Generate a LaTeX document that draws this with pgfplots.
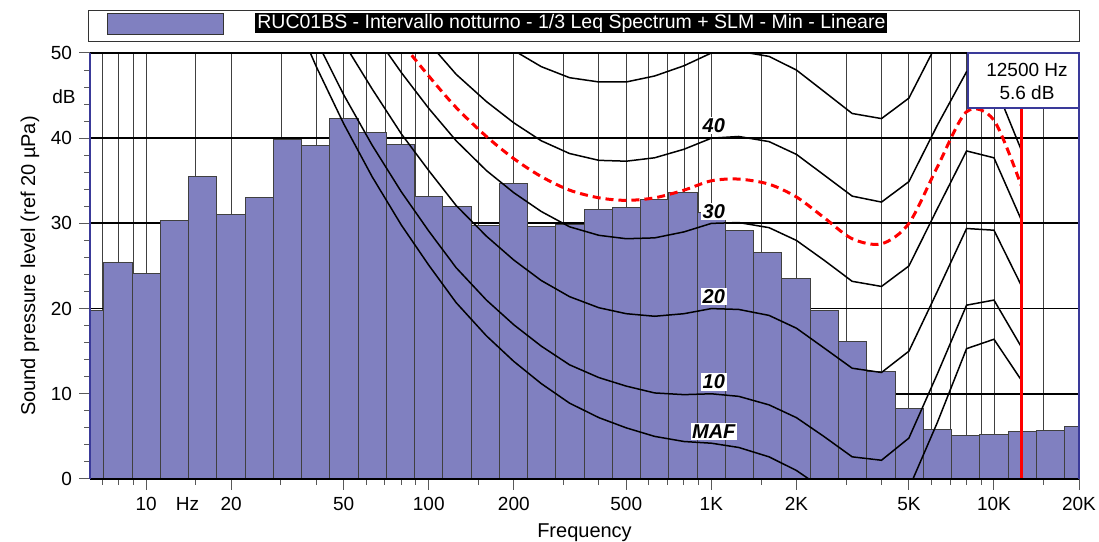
\documentclass[border=0pt]{standalone}
\usepackage{fontspec}
\setmainfont{Liberation Sans}
\usepackage{pgfplots}
\pgfplotsset{compat=1.18}
\usetikzlibrary{calc}
\definecolor{barfill}{HTML}{8080C0}
\definecolor{navy}{HTML}{3A3A99}

\begin{document}
\begin{tikzpicture}
\begin{axis}[
    scale only axis,
    width=494.5pt, height=213pt,
    xmode=log,
    xmin=6.33, xmax=20000,
    ymin=0, ymax=50,
    axis line style={draw=none},
    xtick={10,20,50,100,200,500,1000,2000,5000,10000,20000},
    xticklabels={10,20,50,100,200,500,1K,2K,5K,10K,20K},
    minor xtick={7,8,9,15,30,40,60,70,80,90,150,300,400,600,700,800,900,1500,3000,4000,6000,7000,8000,9000,15000},
    extra x ticks={14},
    extra x tick labels={Hz},
    extra x tick style={grid=none, major tick style={draw=none}},
    ytick={0,10,20,30,40,50},
    minor y tick num=4,
    xtick pos=bottom, ytick pos=left,
    tick align=outside,
    major tick length=5.5pt, minor tick length=3pt,
    every tick/.style={black!65, line width=0.5pt},
    xmajorgrids, xminorgrids, ymajorgrids,
    major x grid style={black!75, line width=0.45pt},
    minor x grid style={black!75, line width=0.45pt},
    major y grid style={black, line width=0.9pt},
    tick label style={font=\fontsize{9.5}{11}\selectfont},
    /pgf/number format/assume math mode=true,
    xlabel={Frequency},
    ylabel={Sound pressure level (ref 20 µPa)},
    label style={font=\fontsize{9.5}{11}\selectfont},
    every axis x label/.style={at={(axis description cs:0.5,0)}, anchor=center, yshift=-27pt},
    every axis y label/.style={at={(axis description cs:-0.0607,0.5)}, anchor=center, rotate=90},
]

% 1/3 octave spectrum, band edges
\addplot[ybar interval, fill=barfill, draw=black!75, line width=0.5pt] coordinates {
    (5.623,19.8) (7.079,25.4) (8.913,24.1) (11.22,30.3) (14.13,35.5) (17.78,31.1)
    (22.39,33.0) (28.18,39.9) (35.48,39.2) (44.67,42.3) (56.23,40.7) (70.79,39.3)
    (89.13,33.1) (112.2,32.0) (141.3,29.7) (177.8,34.7) (223.9,29.6) (281.8,29.9)
    (354.8,31.6) (446.7,31.9) (562.3,32.8) (707.9,33.6) (891.3,31.3) (1122,29.2)
    (1413,26.6) (1778,23.5) (2239,19.8) (2818,16.1) (3548,12.6) (4467,8.3)
    (5623,5.8) (7079,5.1) (8913,5.2) (11220,5.6) (14130,5.7) (17780,6.2) (22390,6.2)
};

% equal loudness contours
\addplot[sharp plot, black, line width=0.75pt] coordinates {
    (20,74.3)(25,65.0)(31.5,56.3)(40,48.4)(50,41.7)(63,35.5)(80,29.8)(100,25.1)
    (125,20.7)(160,16.8)(200,13.8)(250,11.2)(315,8.9)(400,7.2)(500,6.0)(630,5.0)
    (800,4.4)(1000,4.2)(1250,3.7)(1600,2.6)(2000,1.0)(2500,-1.2)(3150,-3.6)
    (4000,-3.9)(5000,-1.1)(6300,6.6)(8000,15.3)(10000,16.4)(12500,11.6)
};
\addplot[sharp plot, black, line width=0.75pt] coordinates {
    (20,76.8)(25,67.7)(31.5,59.2)(40,51.5)(50,45.1)(63,39.2)(80,33.7)(100,29.1)
    (125,24.8)(160,21.0)(200,18.1)(250,15.6)(315,13.4)(400,11.9)(500,10.9)(630,10.1)
    (800,9.9)(1000,10.0)(1250,9.7)(1600,8.7)(2000,7.2)(2500,5.0)(3150,2.6)
    (4000,2.2)(5000,4.8)(6300,12.3)(8000,20.4)(10000,21.0)(12500,15.5)
};
\addplot[sharp plot, black, line width=0.75pt] coordinates {
    (20,81.3)(25,72.5)(31.5,64.3)(40,57.1)(50,51.2)(63,45.8)(80,40.5)(100,36.2)
    (125,32.1)(160,28.5)(200,25.7)(250,23.3)(315,21.4)(400,20.1)(500,19.4)(630,19.1)
    (800,19.4)(1000,20.0)(1250,19.9)(1600,19.2)(2000,17.7)(2500,15.4)(3150,13.0)
    (4000,12.5)(5000,15.0)(6300,22.0)(8000,29.4)(10000,29.2)(12500,22.7)
};
\addplot[sharp plot, black, line width=0.75pt] coordinates {
    (20,86.0)(25,77.6)(31.5,69.7)(40,62.9)(50,57.6)(63,52.6)(80,47.7)(100,43.5)
    (125,39.7)(160,36.2)(200,33.6)(250,31.4)(315,29.6)(400,28.6)(500,28.2)(630,28.3)
    (800,29.0)(1000,30.0)(1250,30.1)(1600,29.5)(2000,28.0)(2500,25.7)(3150,23.2)
    (4000,22.6)(5000,25.0)(6300,31.7)(8000,38.5)(10000,37.7)(12500,30.4)
};
\addplot[sharp plot, black, line width=0.75pt] coordinates {
    (20,91.0)(25,82.9)(31.5,75.4)(40,69.0)(50,64.3)(63,59.8)(80,55.0)(100,51.2)
    (125,47.5)(160,44.3)(200,41.8)(250,39.7)(315,38.2)(400,37.4)(500,37.3)(630,37.7)
    (800,38.7)(1000,40.0)(1250,40.2)(1600,39.6)(2000,38.1)(2500,35.7)(3150,33.2)
    (4000,32.5)(5000,34.9)(6300,41.5)(8000,47.8)(10000,46.5)(12500,38.6)
};
\addplot[sharp plot, black, line width=0.75pt] coordinates {
    (80,62.7)(100,59.1)(125,55.7)(160,52.7)(200,50.3)(250,48.4)(315,47.1)(400,46.6)
    (500,46.6)(630,47.3)(800,48.5)(1000,50.0)(1250,50.2)(1600,49.6)(2000,48.0)
    (2500,45.5)(3150,42.9)(4000,42.3)(5000,44.7)(6300,51.2)(8000,57.2)
};
% 35 phon, dashed red
\addplot[smooth, red, line width=1.5pt, dash pattern=on 4pt off 2.5pt] coordinates {
    (50,60.9)(63,56.2)(80,51.3)(100,47.3)(125,43.6)(160,40.2)(200,37.6)(250,35.5)
    (315,33.9)(400,33.0)(500,32.7)(630,33.0)(800,33.9)(1000,35.0)(1250,35.2)
    (1600,34.6)(2000,33.1)(2500,30.7)(3150,28.2)(4000,27.6)(5000,30.0)(6300,36.6)
    (8000,43.1)(10000,42.1)(12500,34.4)
};

\tikzset{cl/.style={font=\fontsize{10}{11}\selectfont\bfseries\itshape, fill=white, inner sep=0.8pt}}
\node[cl] at (axis cs:1020,41.5) {40};
\node[cl] at (axis cs:1020,31.4) {30};
\node[cl] at (axis cs:1020,21.4) {20};
\node[cl] at (axis cs:1020,11.4) {10};
\node[cl] at (axis cs:1020,5.6) {MAF};

\draw[red, line width=1.5pt] (axis cs:12500,0) -- (axis cs:12500,50);
\end{axis}

% frame
\draw[black, line width=1.2pt] (current axis.north west) -- (current axis.north east);
\draw[black, line width=1.3pt] (current axis.south west) -- (current axis.south east);
\draw[navy, line width=1pt] (current axis.south west) -- (current axis.north west);
\draw[navy, line width=1pt] (current axis.south east) -- (current axis.north east);

% cursor readout
\draw[navy, line width=0.8pt, fill=white] ($(current axis.north east)+(-55.5pt,0)$) rectangle ($(current axis.north east)+(0,-27.5pt)$);
\node[align=center, font=\fontsize{9.5}{11.5}\selectfont] at ($(current axis.north east)+(-26pt,-14pt)$) {12500 Hz\\5.6 dB};

% dB unit on y axis
\node[font=\fontsize{9.5}{11}\selectfont] at ($(current axis.north west)+(-13pt,-22pt)$) {dB};

% legend
\draw[black!80, line width=0.5pt] ($(current axis.north west)+(-1pt,5.5pt)$) rectangle ($(current axis.north east)+(0,21pt)$);
\draw[black!80, fill=barfill, line width=0.5pt] ($(current axis.north west)+(8.5pt,9pt)$) rectangle ($(current axis.north west)+(66.5pt,19.5pt)$);
\node[fill=black, text=white, anchor=west, inner xsep=1pt, inner ysep=0.5pt, text height=7.5pt, text depth=1.8pt,
      font=\fontsize{9.75}{12}\selectfont] at ($(current axis.north west)+(82.5pt,15pt)$)
      {RUC01BS - Intervallo notturno - 1/3 Leq Spectrum + SLM - Min - Lineare};

\pgfresetboundingbox
\path ($(current axis.south west)+(-45pt,-31.5pt)$) rectangle ($(current axis.north east)+(10pt,26.5pt)$);
\end{tikzpicture}
\end{document}
